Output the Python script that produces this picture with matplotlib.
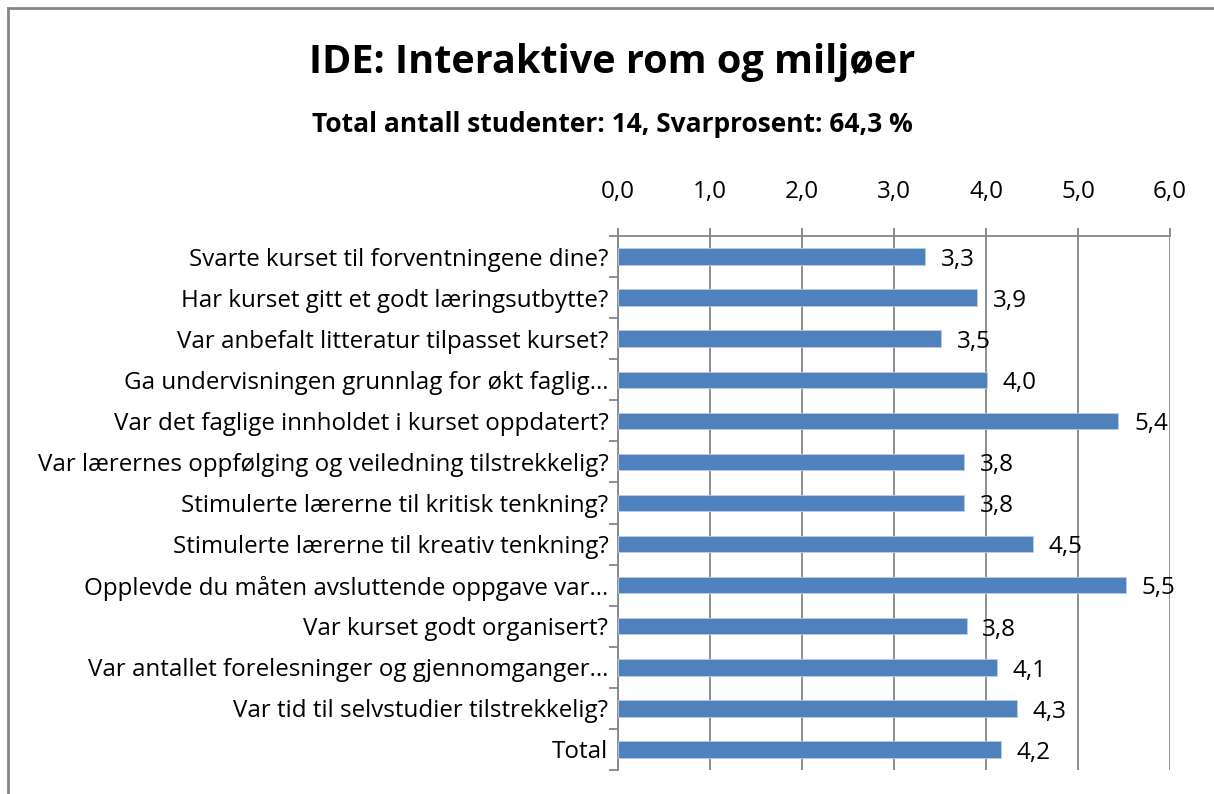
import matplotlib
matplotlib.use("Agg")
import matplotlib.pyplot as plt
from matplotlib.lines import Line2D

questions = [
    "Svarte kurset til forventningene dine?",
    "Har kurset gitt et godt læringsutbytte?",
    "Var anbefalt litteratur tilpasset kurset?",
    "Ga undervisningen grunnlag for økt faglig…",
    "Var det faglige innholdet i kurset oppdatert?",
    "Var lærernes oppfølging og veiledning tilstrekkelig?",
    "Stimulerte lærerne til kritisk tenkning?",
    "Stimulerte lærerne til kreativ tenkning?",
    "Opplevde du måten avsluttende oppgave var…",
    "Var kurset godt organisert?",
    "Var antallet forelesninger og gjennomganger…",
    "Var tid til selvstudier tilstrekkelig?",
    "Total",
]
scores = [3.34, 3.90, 3.51, 4.01, 5.44, 3.76, 3.76, 4.51, 5.52, 3.79, 4.12, 4.34, 4.16]
xticks = [0, 1, 2, 3, 4, 5, 6]

BAR = "#4f81bd"
GRID = "#868686"
FONT = "Open Sans"

plt.rcParams["font.family"] = [FONT, "DejaVu Sans"]

fig = plt.figure(figsize=(12.14, 7.94), dpi=100)
W, H = 1214, 794
# plot area in pixels: x 618..1170, y 236..770
ax = fig.add_axes([618 / W, 1 - 770 / H, (1170 - 618) / W, (770 - 236) / H])

y = list(range(len(questions)))
ax.barh(y, scores, height=0.4, color=BAR, edgecolor="#b9cde5", linewidth=0.6, zorder=3)
for yi, v in zip(y, scores):
    ax.text(v + 0.17, yi + 0.08, f"{v:.1f}".replace(".", ","), va="center", ha="left",
            fontsize=17.5, color="black", zorder=4)

ax.set_xlim(0, 6)
ax.set_ylim(len(questions) - 0.5, -0.5)
ax.set_xticks(xticks)
ax.set_xticklabels([f"{t:.1f}".replace(".", ",") for t in xticks], fontsize=17.5)
ax.xaxis.tick_top()
ax.tick_params(axis="x", direction="out", length=6, width=1.3, color=GRID, pad=17)
ax.set_yticks([i - 0.5 for i in range(len(questions) + 1)], minor=False)
ax.set_yticklabels([])
ax.set_yticks(y, minor=True)
ax.set_yticklabels(questions, minor=True, fontsize=17.4)
ax.tick_params(axis="y", which="major", direction="out", length=6.5, width=1.3, color=GRID)
ax.tick_params(axis="y", which="minor", length=0, pad=7)
ax.grid(axis="x", color=GRID, linewidth=1.3, zorder=0)
for s in ["right", "bottom"]:
    ax.spines[s].set_visible(False)
for s in ["left", "top"]:
    ax.spines[s].set_color(GRID)
    ax.spines[s].set_linewidth(1.3)

fig.text(612 / W, 1 - 62 / H, "IDE: Interaktive rom og miljøer", ha="center", va="center",
         fontsize=28.5, fontweight="bold")
fig.text(612 / W, 1 - 124 / H, "Total antall studenter: 14, Svarprosent: 64,3 %", ha="center",
         va="center", fontsize=19, fontweight="bold")

# chart border (left and top edges visible)
fig.add_artist(Line2D([8 / W, 8 / W], [0, 1 - 8 / H], color="#868686", linewidth=2,
                      transform=fig.transFigure))
fig.add_artist(Line2D([8 / W, 1], [1 - 8 / H, 1 - 8 / H], color="#868686", linewidth=2,
                      transform=fig.transFigure))

fig.savefig("out.png", dpi=100)
